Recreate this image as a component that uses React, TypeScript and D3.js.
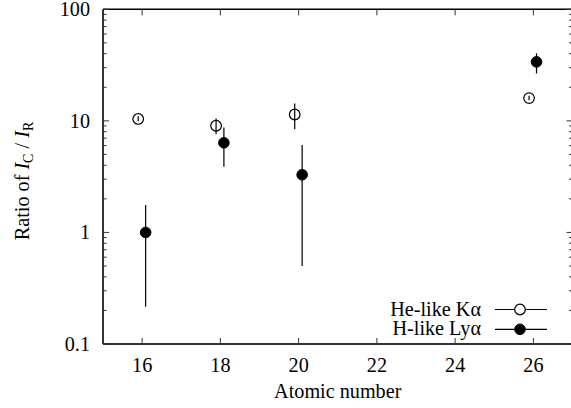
import React from "react";
import * as d3 from "d3";

const heZ = [15.9, 17.89, 19.9, 25.89];
const heVal = [10.4, 9.04, 11.4, 16.0];
const heLo = [9.9, 7.57, 8.4, 15.3];
const heHi = [11.0, 10.5, 14.3, 16.8];

const hZ = [16.09, 18.09, 20.09, 26.08];
const hVal = [1.0, 6.36, 3.29, 33.8];
const hLo = [0.216, 3.88, 0.5, 26.6];
const hHi = [1.76, 8.74, 6.07, 40.3];

const xTicks = [16, 18, 20, 22, 24, 26];
const yTicks = [0.1, 1, 10, 100];
const yTickLabels = ["0.1", "1", "10", "100"];

const W = 571;
const H = 408;
const L = 103;
const R = 572.5;
const T = 9.3;
const B = 344;
const FONT = "Liberation Serif, Times New Roman, DejaVu Serif, serif";
const FS = 20.2;

export default function App() {
  const x = d3.scaleLinear().domain([15, 27]).range([L, R]);
  const y = d3.scaleLog().domain([0.1, 100]).range([B, T]);

  const minor: number[] = [];
  [0.1, 1, 10].forEach((d) => {
    for (let k = 2; k <= 9; k++) minor.push(d * k);
  });

  const r = 5.3;

  return (
    <svg
      width={W}
      height={H}
      style={{ position: "absolute", left: 0, top: 0, background: "#fff", fontFamily: FONT }}
    >
      {/* frame */}
      <line x1={L} x2={R} y1={T} y2={T} stroke="#000" strokeWidth={1.5} />
      <line x1={L} x2={L} y1={T} y2={B} stroke="#333" strokeWidth={2} />
      <line x1={L} x2={R} y1={B} y2={B} stroke="#333" strokeWidth={2} />

      {/* x ticks */}
      {xTicks.map((t) => (
        <g key={"x" + t}>
          <line x1={x(t)} x2={x(t)} y1={B} y2={B - 6} stroke="#333" strokeWidth={1} />
          <line x1={x(t)} x2={x(t)} y1={T} y2={T + 6} stroke="#333" strokeWidth={1} />
          <text x={x(t)} y={371.5} fontSize={FS} textAnchor="middle">
            {t}
          </text>
        </g>
      ))}

      {/* y ticks */}
      {yTicks.map((t, i) => (
        <g key={"y" + t}>
          <line x1={L} x2={L + 6} y1={y(t)} y2={y(t)} stroke="#333" strokeWidth={1} />
          <line x1={R} x2={R - 6} y1={y(t)} y2={y(t)} stroke="#333" strokeWidth={1} />
          <text x={90} y={y(t)} dy="0.33em" fontSize={FS} textAnchor="end">
            {yTickLabels[i]}
          </text>
        </g>
      ))}
      {minor.map((t) => (
        <g key={"m" + t}>
          <line x1={L} x2={L + 3.5} y1={y(t)} y2={y(t)} stroke="#333" strokeWidth={1} />
          <line x1={R} x2={R - 3.5} y1={y(t)} y2={y(t)} stroke="#333" strokeWidth={1} />
        </g>
      ))}

      {/* axis labels */}
      <text x={(L + R) / 2} y={398} fontSize={FS} textAnchor="middle">
        Atomic number
      </text>
      <text
        transform={`translate(29,181) rotate(-90)`}
        fontSize={FS}
        textAnchor="middle"
      >
        Ratio of <tspan fontStyle="italic">I</tspan>
        <tspan fontSize={14} dy={4}>C</tspan>
        <tspan dy={-4}> / </tspan>
        <tspan fontStyle="italic">I</tspan>
        <tspan fontSize={14} dy={4}>R</tspan>
      </text>

      {/* He-like */}
      {heZ.map((z, i) => (
        <g key={"he" + i}>
          <line x1={x(z)} x2={x(z)} y1={y(heLo[i])} y2={y(heHi[i])} stroke="#000" strokeWidth={1.2} />
          <circle cx={x(z)} cy={y(heVal[i])} r={r} fill="none" stroke="#000" strokeWidth={1.2} />
        </g>
      ))}

      {/* H-like */}
      {hZ.map((z, i) => (
        <g key={"h" + i}>
          <line x1={x(z)} x2={x(z)} y1={y(hLo[i])} y2={y(hHi[i])} stroke="#000" strokeWidth={1.2} />
          <circle cx={x(z)} cy={y(hVal[i])} r={r} fill="#000" stroke="#000" strokeWidth={1} />
        </g>
      ))}

      {/* legend */}
      <text x={481} y={309.5} dy="0.33em" fontSize={FS} textAnchor="end">
        He-like Kα
      </text>
      <line x1={495} x2={547} y1={309.5} y2={309.5} stroke="#000" strokeWidth={1.2} />
      <circle cx={520} cy={309.5} r={r} fill="#fff" stroke="#000" strokeWidth={1.2} />
      <text x={481} y={328.5} dy="0.33em" fontSize={FS} textAnchor="end">
        H-like Lyα
      </text>
      <line x1={495} x2={547} y1={329.3} y2={329.3} stroke="#000" strokeWidth={1.2} />
      <circle cx={520} cy={329.3} r={r} fill="#000" stroke="#000" strokeWidth={1} />
    </svg>
  );
}
